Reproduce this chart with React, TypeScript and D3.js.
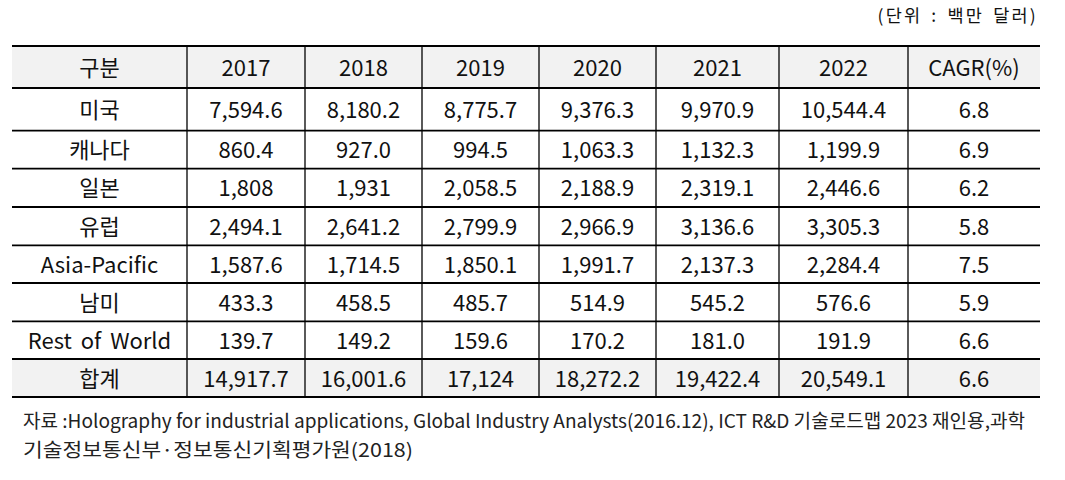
import React from "react";
import * as d3 from "d3";

const headers = ["구분", "2017", "2018", "2019", "2020", "2021", "2022", "CAGR(%)"];
const regions = ["미국", "캐나다", "일본", "유럽", "Asia-Pacific", "남미", "Rest of World", "합계"];
const usa = ["7,594.6", "8,180.2", "8,775.7", "9,376.3", "9,970.9", "10,544.4", "6.8"];
const canada = ["860.4", "927.0", "994.5", "1,063.3", "1,132.3", "1,199.9", "6.9"];
const japan = ["1,808", "1,931", "2,058.5", "2,188.9", "2,319.1", "2,446.6", "6.2"];
const europe = ["2,494.1", "2,641.2", "2,799.9", "2,966.9", "3,136.6", "3,305.3", "5.8"];
const asiaPacific = ["1,587.6", "1,714.5", "1,850.1", "1,991.7", "2,137.3", "2,284.4", "7.5"];
const southAmerica = ["433.3", "458.5", "485.7", "514.9", "545.2", "576.6", "5.9"];
const restOfWorld = ["139.7", "149.2", "159.6", "170.2", "181.0", "191.9", "6.6"];
const total = ["14,917.7", "16,001.6", "17,124", "18,272.2", "19,422.4", "20,549.1", "6.6"];
const rowValues = [usa, canada, japan, europe, asiaPacific, southAmerica, restOfWorld, total];

const unitText = "(단위 : 백만 달러)";
const sourceLine1 = "자료 :Holography for industrial applications, Global Industry Analysts(2016.12), ICT R&D 기술로드맵 2023 재인용,과학";
const sourceLine2 = "기술정보통신부·정보통신기획평가원(2018)";

// layout
const tableLeft = 12;
const colWidths = [175, 118, 117, 117, 117, 123, 129, 132];
const rowHeights = [42, 42.7, 38, 38.3, 38.4, 37.6, 38.4, 37.6, 38];
const tableTop = 46;

const colEdges = [tableLeft, ...Array.from(d3.cumsum(colWidths)).map((v) => tableLeft + v)];
const rowEdges = [tableTop, ...Array.from(d3.cumsum(rowHeights)).map((v) => tableTop + v)];

const FONT = "'Noto Sans CJK KR', 'Noto Sans', sans-serif";

export default function App() {
  const allRows = [headers, ...regions.map((r, i) => [r, ...rowValues[i]])];
  const greyRows = new Set([0, allRows.length - 1]);
  const tableRight = colEdges[colEdges.length - 1];
  const tableBottom = rowEdges[rowEdges.length - 1];
  return (
    <svg
      width={1065}
      height={480}
      style={{ position: "absolute", left: 0, top: 0, background: "#fff" }}
      fontFamily={FONT}
    >
      <rect x={0} y={0} width={1065} height={480} fill="#fff" />
      <text x={1038} y={22} fontSize={17.5} textAnchor="end" fill="#111" letterSpacing={2.2} wordSpacing={3}>
        {unitText}
      </text>
      {allRows.map((row, ri) =>
        greyRows.has(ri) ? (
          <rect
            key={"bg" + ri}
            x={tableLeft}
            y={rowEdges[ri]}
            width={tableRight - tableLeft}
            height={rowEdges[ri + 1] - rowEdges[ri]}
            fill="#f2f2f2"
          />
        ) : null
      )}
      {allRows.map((row, ri) =>
        row.map((cell, ci) => {
          const cx = (colEdges[ci] + colEdges[ci + 1]) / 2;
          const cy = (rowEdges[ri] + rowEdges[ri + 1]) / 2;
          return (
            <text
              key={ri + "-" + ci}
              x={cx}
              y={cy + 8.5}
              fontSize={22}
              textAnchor="middle"
              fill="#111"
              wordSpacing={cell === "Rest of World" ? 4 : 0}
            >
              {cell}
            </text>
          );
        })
      )}
      {rowEdges.map((y, i) => (
        <line key={"h" + i} x1={tableLeft} x2={tableRight} y1={y} y2={y} stroke="#000" strokeWidth={1.8} />
      ))}
      {colEdges.slice(1, -1).map((x, i) => (
        <line key={"v" + i} x1={x} x2={x} y1={tableTop} y2={tableBottom} stroke="#000" strokeWidth={1.3} />
      ))}
      <text x={23} y={428} fontSize={19} fill="#222" textLength={1002} lengthAdjust="spacingAndGlyphs">
        {sourceLine1}
      </text>
      <text x={23} y={457} fontSize={19} fill="#222" textLength={390} lengthAdjust="spacingAndGlyphs">
        {sourceLine2}
      </text>
    </svg>
  );
}
